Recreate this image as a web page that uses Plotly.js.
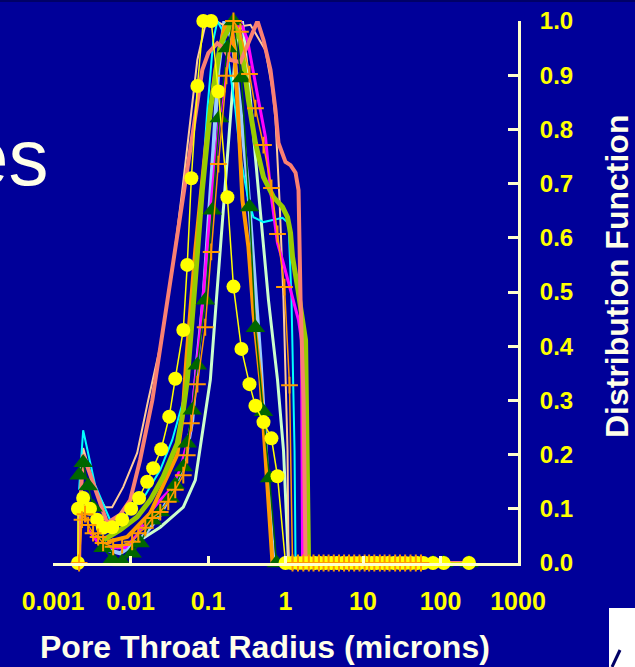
<!DOCTYPE html>
<html>
<head>
<meta charset="utf-8">
<script src="https://cdn.plot.ly/plotly-3.0.1.min.js"></script>
<style>
  html, body { margin: 0; padding: 0; background: #000099; }
  #chart { width: 635px; height: 667px; }
</style>
</head>
<body>
<div id="chart"></div>
<script>
// Pore throat radius (microns) vs normalised distribution function, one pair of arrays per sample.

const tickVals = [0.001, 0.01, 0.1, 1, 10, 100, 1000];
const tickText = ['0.001', '0.01', '0.1', '1', '10', '100', '1000'];

// Sample with yellow circle markers
const radiusYellow = [0.0021, 0.0021, 0.00245, 0.0030, 0.0037, 0.0044, 0.0058, 0.0078, 0.0102, 0.0129,
  0.0164, 0.0196, 0.0249, 0.0316, 0.0378, 0.048, 0.054, 0.061, 0.073, 0.087,
  0.110, 0.136, 0.178, 0.213, 0.270, 0.343, 0.409, 0.520, 0.659, 0.789,
  1.0, 1.2, 1.45, 1.7, 2.0, 2.4, 2.8, 3.3, 3.9, 4.6, 5.5,
  6.5, 7.7, 9, 11, 13, 15, 18, 21, 25, 30,
  35, 42, 50, 60, 80, 110, 233];
const distYellow = [0, 0.10, 0.12, 0.10, 0.08, 0.065, 0.066, 0.08, 0.10, 0.12,
  0.15, 0.175, 0.21, 0.27, 0.34, 0.43, 0.55, 0.71, 0.88, 1.0,
  1.0, 0.87, 0.675, 0.51, 0.395, 0.33, 0.29, 0.26, 0.23, 0.16,
  0, 0, 0, 0, 0, 0, 0, 0, 0, 0, 0,
  0, 0, 0, 0, 0, 0, 0, 0, 0, 0,
  0, 0, 0, 0, 0, 0, 0];

// Sample with orange cross markers
const radiusCross = [0.00217, 0.00237, 0.00259, 0.00284, 0.00329, 0.00382, 0.00443, 0.00597, 0.0078, 0.0105,
  0.0126, 0.0155, 0.0191, 0.0242, 0.0307, 0.0378, 0.048, 0.054, 0.061, 0.073,
  0.092, 0.110, 0.136, 0.173, 0.213, 0.262, 0.343, 0.409, 0.520, 0.659,
  0.789, 0.970, 1.127, 1.232,
  1.45, 1.7, 2.0, 2.3, 2.7, 3.1, 3.6, 4.2, 4.9, 5.7,
  6.6, 7.7, 9.0, 10.5, 12, 14, 16.5, 19, 22, 26,
  30, 35, 41, 48, 56];
const distCross = [0, 0.08, 0.09, 0.07, 0.055, 0.048, 0.037, 0.03, 0.033, 0.039,
  0.055, 0.065, 0.083, 0.094, 0.113, 0.135, 0.162, 0.199, 0.258, 0.33,
  0.435, 0.574, 0.736, 0.899, 1.0, 0.98, 0.902, 0.839, 0.771, 0.692,
  0.607, 0.509, 0.328, 0,
  0, 0, 0, 0, 0, 0, 0, 0, 0, 0,
  0, 0, 0, 0, 0, 0, 0, 0, 0, 0,
  0, 0, 0, 0, 0];

// Sample with green triangle markers
const radiusTriangle = [0.00217, 0.00245, 0.00284, 0.00329, 0.00443, 0.0058, 0.0078, 0.0105, 0.0133, 0.0191,
  0.0242, 0.0326, 0.0378, 0.048, 0.054, 0.0627, 0.0728, 0.0924, 0.1138, 0.140,
  0.178, 0.213, 0.270, 0.343, 0.409, 0.520, 0.621, 0.766,
  80, 110, 233];
const distTriangle = [0.162, 0.185, 0.142, 0.103, 0.028, 0.007, 0.002, 0.018, 0.037, 0.079,
  0.094, 0.12, 0.144, 0.177, 0.221, 0.282, 0.365, 0.485, 0.651, 0.821,
  0.95, 1.0, 0.895, 0.657, 0.434, 0.279, 0.157, 0,
  0, 0, 0];

// Salmon (broad, shouldered) sample
const radiusSalmon = [0.00217, 0.00224, 0.00245, 0.00349, 0.0050, 0.00735, 0.0099, 0.0133, 0.0191, 0.0281,
  0.0378, 0.0509, 0.0627, 0.0728, 0.0845, 0.101, 0.132, 0.158, 0.1945, 0.262,
  0.332, 0.386, 0.435, 0.520, 0.640, 0.743, 0.812, 1.0, 1.161, 1.348,
  1.473, 1.564, 1.710, 1.815, 5, 20, 100, 233];
const distSalmon = [0, 0.103, 0.2, 0.135, 0.074, 0.089, 0.116, 0.19, 0.30, 0.458,
  0.578, 0.707, 0.79, 0.849, 0.91, 0.941, 0.959, 0.95, 0.928, 0.924,
  0.959, 0.983, 1.0, 0.965, 0.91, 0.836, 0.775, 0.74, 0.734, 0.72,
  0.688, 0.485, 0.30, 0, 0, 0, 0, 0];

// Peach sample
const radiusPeach = [0.00224, 0.00245, 0.00349, 0.0047, 0.0058, 0.00804, 0.0122, 0.0169, 0.0242, 0.0346,
  0.0466, 0.0591, 0.0728, 0.0924, 0.1244, 0.1945, 0.353, 0.551, 0.679, 0.743,
  0.837, 0.9425, 1.062, 1.094, 3, 10, 40, 110, 233];
const distPeach = [0.153, 0.212, 0.135, 0.103, 0.103, 0.14, 0.203, 0.30, 0.40, 0.54,
  0.688, 0.817, 0.928, 0.993, 1.0, 0.987, 0.993, 0.946, 0.873, 0.817,
  0.67, 0.485, 0.208, 0, 0, 0, 0, 0, 0];

// Cyan sample
const radiusCyan = [0.00217, 0.00245, 0.00349, 0.00546, 0.00906, 0.01548, 0.0242, 0.0346, 0.048, 0.0627,
  0.0796, 0.098, 0.1172, 0.1321, 0.1533, 0.1832, 0.2257, 0.262, 0.3227, 0.3858,
  0.520, 0.9148, 1.094, 1.196, 1.308, 1.348, 3, 10];
const distCyan = [0.135, 0.245, 0.144, 0.079, 0.089, 0.125, 0.172, 0.227, 0.30, 0.448,
  0.651, 0.836, 0.965, 1.0, 0.983, 0.928, 0.836, 0.749, 0.679, 0.638,
  0.629, 0.637, 0.627, 0.485, 0.208, 0, 0, 0];

// Magenta sample
const radiusMagenta = [0.00284, 0.00405, 0.00597, 0.00853, 0.0122, 0.01797, 0.0242, 0.0326, 0.04388, 0.05911,
  0.0796, 0.1072, 0.1444, 0.1945, 0.262, 0.3227, 0.4477, 0.5514, 0.6401, 0.789,
  0.9148, 1.161, 1.473, 1.611, 1.660, 5, 20];
const distMagenta = [0.061, 0.033, 0.028, 0.028, 0.052, 0.094, 0.116, 0.135, 0.172, 0.245,
  0.43, 0.651, 0.836, 0.956, 1.0, 0.965, 0.854, 0.786, 0.688, 0.59,
  0.559, 0.504, 0.448, 0.411, 0, 0, 0];

// Orange sample (no markers)
const radiusOrange = [0.0050, 0.00906, 0.01797, 0.0326, 0.04013, 0.04659, 0.0525, 0.06861, 0.0924, 0.1244,
  0.1627, 0.1945, 0.2191, 0.2468, 0.278, 0.3324, 0.3858, 0.4751, 0.568, 0.6792, 3, 10];
const distOrange = [0.039, 0.048, 0.092, 0.172, 0.2, 0.264, 0.375, 0.578, 0.762, 0.91,
  0.989, 1.0, 0.946, 0.817, 0.67, 0.583, 0.461, 0.338, 0.172, 0, 0, 0];

// Light blue sample
const radiusBlue = [0.00405, 0.00735, 0.0133, 0.0242, 0.0378, 0.0509, 0.0627, 0.0728, 0.0871, 0.101,
  0.1172, 0.136, 0.1627, 0.2064, 0.262, 0.3227, 0.3858, 0.4751, 0.568, 0.6997, 3, 10];
const distBlue = [0.028, 0.018, 0.042, 0.089, 0.144, 0.19, 0.264, 0.375, 0.485, 0.614,
  0.762, 0.91, 1.0, 0.965, 0.836, 0.707, 0.559, 0.375, 0.19, 0, 0, 0];

// Pale green sample
const radiusMint = [0.00672, 0.0133, 0.0242, 0.048, 0.06861, 0.0871, 0.1072, 0.1282, 0.1676, 0.2064,
  0.2325, 0.278, 0.3528, 0.4345, 0.520, 0.603, 0.789, 0.9425, 1.094, 3, 10];
const distMint = [0.028, 0.042, 0.066, 0.103, 0.153, 0.251, 0.338, 0.485, 0.707, 0.873,
  0.965, 1.0, 0.854, 0.707, 0.578, 0.485, 0.338, 0.208, 0, 0, 0];

// Yellow-green sample
const radiusLime = [0.00443, 0.00735, 0.0122, 0.01797, 0.02645, 0.04013, 0.048, 0.0541, 0.06861, 0.08448,
  0.1072, 0.1444, 0.2064, 0.262, 0.3324, 0.409, 0.520, 0.6997, 0.9148, 1.062,
  1.161, 1.232, 1.430, 1.660, 1.815, 1.984, 5, 20];
const distLime = [0.042, 0.061, 0.085, 0.116, 0.159, 0.221, 0.282, 0.338, 0.522, 0.688,
  0.836, 0.956, 1.0, 0.965, 0.854, 0.775, 0.712, 0.675, 0.657, 0.638,
  0.609, 0.565, 0.509, 0.448, 0.411, 0, 0, 0];

const FONT = 'Arial, "Liberation Sans", Helvetica, sans-serif';
const AXIS_COLOR = '#FFFFCC';
const LABEL_COLOR = '#FFFF00';
const TITLE_COLOR = '#FFFFE8';
const BG = '#000099';

function curve(x, y, color, width) {
  return { x: x, y: y, type: 'scatter', mode: 'lines', cliponaxis: false,
           line: { color: color, width: width }, hoverinfo: 'skip' };
}

const traces = [
  curve(radiusMint, distMint, '#CCFFCC', 3),
  curve(radiusBlue, distBlue, '#99CCFF', 4),
  curve(radiusPeach, distPeach, '#FFCC99', 2),
  curve(radiusCyan, distCyan, '#00FFFF', 2),
  curve(radiusMagenta, distMagenta, '#FF00FF', 3),
  curve(radiusOrange, distOrange, '#FF9900', 4),
  curve(radiusLime, distLime, '#99CC00', 5),
  curve(radiusSalmon, distSalmon, '#FA8072', 4),
  { x: radiusTriangle, y: distTriangle, type: 'scatter', mode: 'lines+markers', cliponaxis: false,
    line: { color: '#006600', width: 1.5 },
    marker: { symbol: 'triangle-up', size: 17, color: '#006600' }, hoverinfo: 'skip' },
  { x: radiusYellow, y: distYellow, type: 'scatter', mode: 'lines+markers', cliponaxis: false,
    line: { color: '#FFFF00', width: 1.5 },
    marker: { symbol: 'circle', size: 14, color: '#FFFF00' }, hoverinfo: 'skip' },
  { x: radiusCross, y: distCross, type: 'scatter', mode: 'lines+markers', cliponaxis: false,
    line: { color: '#FF9900', width: 1.5 },
    marker: { symbol: 'cross-thin', size: 12, line: { color: '#FF9900', width: 2 } }, hoverinfo: 'skip' }
];

const layout = {
  width: 635, height: 667,
  margin: { l: 53, r: 117, t: 21, b: 104, pad: 0 },
  paper_bgcolor: BG, plot_bgcolor: BG,
  showlegend: false,
  xaxis: {
    type: 'log', range: [-3, 3],
    tickmode: 'array', tickvals: tickVals, ticktext: tickText,
    ticks: 'inside', ticklen: 7, tickwidth: 3, tickcolor: AXIS_COLOR,
    showline: true, linecolor: AXIS_COLOR, linewidth: 3,
    showgrid: false, zeroline: false,
    tickfont: { family: FONT, size: 25, color: LABEL_COLOR, weight: 'bold' },
    ticklabelstandoff: 14, fixedrange: true
  },
  yaxis: {
    range: [0, 1], side: 'right',
    tick0: 0, dtick: 0.1, tickformat: '.1f',
    ticks: 'inside', ticklen: 10, tickwidth: 3, tickcolor: AXIS_COLOR,
    showline: true, linecolor: AXIS_COLOR, linewidth: 3,
    showgrid: false, zeroline: false,
    tickfont: { family: FONT, size: 24, color: LABEL_COLOR, weight: 'bold' },
    ticklabelstandoff: 14, fixedrange: true
  },
  annotations: [
    { text: 'Pore Throat Radius (microns)', xref: 'paper', yref: 'paper',
      x: 0.456, y: -0.155, xanchor: 'center', yanchor: 'middle', showarrow: false,
      font: { family: FONT, size: 32, color: TITLE_COLOR, weight: 'bold' } },
    { text: 'Distribution Function', xref: 'paper', yref: 'paper',
      x: 1.213, y: 0.5295, xanchor: 'center', yanchor: 'middle', textangle: -90, showarrow: false,
      font: { family: FONT, size: 32, color: TITLE_COLOR, weight: 'bold' } },
    { text: 'es', xref: 'paper', yref: 'paper',
      x: -0.004, y: 0.748, xanchor: 'right', yanchor: 'middle', showarrow: false,
      font: { family: '"Liberation Sans Narrow", "Arial Narrow", ' + FONT, size: 80, color: TITLE_COLOR } }
  ],
  shapes: [
    { type: 'rect', xref: 'paper', yref: 'paper', x0: -0.12, x1: 1.26, y0: 1.0352, y1: 1.04,
      line: { width: 0 }, fillcolor: '#000066', layer: 'below' },
    { type: 'rect', xref: 'paper', yref: 'paper', x0: 1.1957, x1: 1.26, y0: -0.2, y1: -0.083,
      line: { width: 0 }, fillcolor: '#FFFFFF' },
    { type: 'line', xref: 'paper', yref: 'paper', x0: 1.2022, y0: -0.1919, x1: 1.2194, y1: -0.1605,
      line: { color: '#000066', width: 3 } }
  ]
};

Plotly.newPlot('chart', traces, layout, { staticPlot: true, displayModeBar: false });
</script>
</body>
</html>
